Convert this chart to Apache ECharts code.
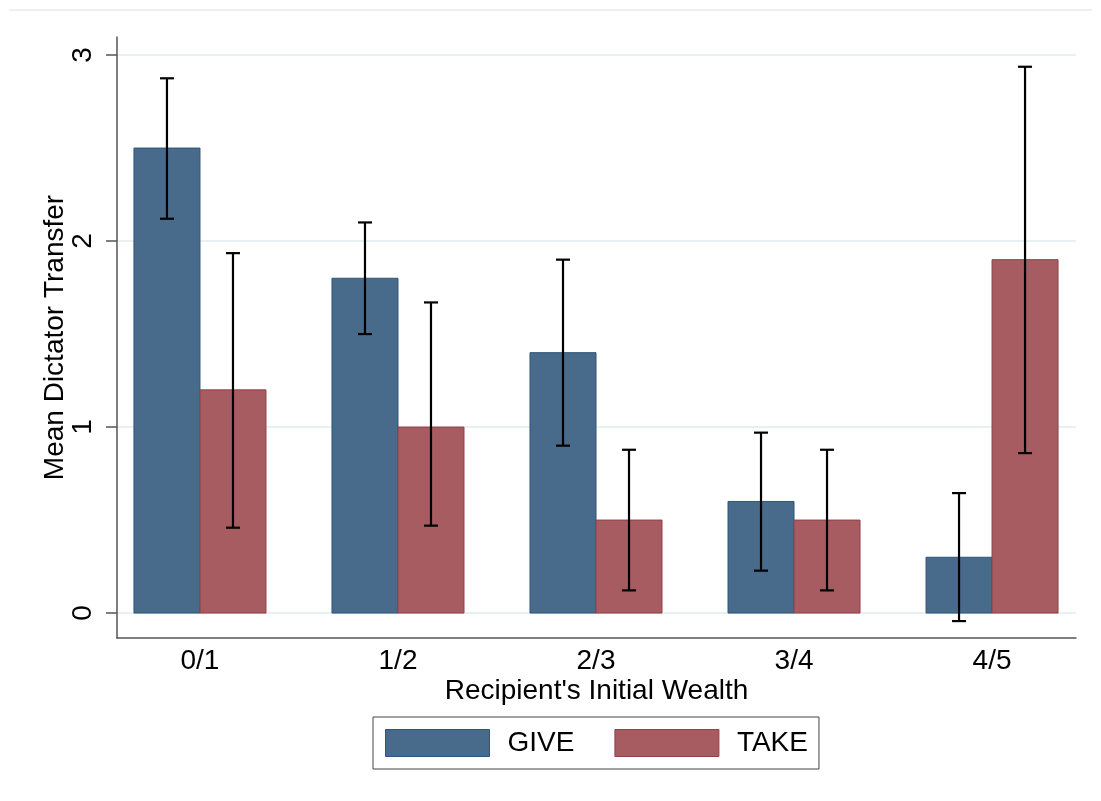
<!DOCTYPE html>
<html>
<head>
<meta charset="utf-8">
<script src="https://cdn.jsdelivr.net/npm/echarts@6/dist/echarts.min.js"></script>
<style>
  html, body { margin: 0; padding: 0; background: #ffffff; }
  #chart { width: 1101px; height: 801px; }
</style>
</head>
<body>
<div id="chart"></div>
<script>
// Recipient's initial wealth groups
const categories = ['0/1', '1/2', '2/3', '3/4', '4/5'];

// GIVE treatment: mean transfer with confidence interval
const giveMean = [2.5, 1.8, 1.4, 0.6, 0.3];
const giveLow  = [2.12, 1.50, 0.90, 0.228, -0.043];
const giveHigh = [2.875, 2.10, 1.90, 0.97, 0.645];

// TAKE treatment: mean transfer with confidence interval
const takeMean = [1.2, 1.0, 0.5, 0.5, 1.9];
const takeLow  = [0.459, 0.47, 0.122, 0.122, 0.86];
const takeHigh = [1.935, 1.67, 0.878, 0.878, 2.937];

const yTicks = [0, 1, 2, 3];
const xTicks = [1, 2, 3, 4, 5];

const FONT = '"Liberation Sans", Arial, sans-serif';
const BAR_W = 1 / 3;          // bar width in category units
const CAP = 7;                // half width of error-bar caps, px

const GIVE_FILL = '#486b8c', GIVE_EDGE = '#2e557a';
const TAKE_FILL = '#a65c61', TAKE_EDGE = '#93414a';

function rows(mean, low, high) {
  return mean.map((m, i) => [i + 1, m, low[i], high[i]]);
}

function barRenderer(offset, fill, edge) {
  return function (params, api) {
    const x = api.value(0) + offset;
    const base = api.coord([x, 0]);
    const top = api.coord([x + BAR_W, api.value(1)]);
    return {
      type: 'rect',
      shape: { x: base[0], y: top[1], width: top[0] - base[0], height: base[1] - top[1] },
      style: { fill: fill, stroke: edge, lineWidth: 1 }
    };
  };
}

function errRenderer(offset) {
  return function (params, api) {
    const x = api.value(0) + offset;
    const lo = api.coord([x, api.value(2)]);
    const hi = api.coord([x, api.value(3)]);
    const st = { stroke: '#000000', lineWidth: 2.2 };
    return {
      type: 'group',
      children: [
        { type: 'line', shape: { x1: lo[0], y1: lo[1], x2: hi[0], y2: hi[1] }, style: st },
        { type: 'line', shape: { x1: lo[0] - CAP, y1: lo[1], x2: lo[0] + CAP, y2: lo[1] }, style: st },
        { type: 'line', shape: { x1: hi[0] - CAP, y1: hi[1], x2: hi[0] + CAP, y2: hi[1] }, style: st }
      ]
    };
  };
}

const textBase = { fontFamily: FONT, fontSize: 28, color: '#000000' };

const chart = echarts.init(document.getElementById('chart'), null, { renderer: 'canvas' });

chart.setOption({
  animation: false,
  backgroundColor: '#ffffff',
  graphic: [{
    type: 'line',
    shape: { x1: 9, y1: 10, x2: 1092, y2: 10 },
    style: { stroke: '#e4ecee', lineWidth: 1.5 },
    silent: true
  }],
  grid: { left: 117, right: 25, top: 37, bottom: 163 },
  xAxis: {
    type: 'value',
    min: 0.581,
    max: 5.424,
    axisLine: { show: true, onZero: false, lineStyle: { color: '#555555', width: 1.5 } },
    axisTick: { show: false },
    splitLine: { show: false },
    axisLabel: {
      customValues: xTicks,
      formatter: v => categories[Math.round(v) - 1],
      margin: 9,
      ...textBase
    },
    name: "Recipient's Initial Wealth",
    nameLocation: 'middle',
    nameGap: 39,
    nameMoveOverlap: false,
    nameTextStyle: textBase
  },
  yAxis: {
    type: 'value',
    min: -0.134,
    max: 3.097,
    axisLine: { show: true, onZero: false, lineStyle: { color: '#555555', width: 1.5 } },
    axisTick: { show: true, length: 11, customValues: yTicks, lineStyle: { color: '#555555', width: 1.5 } },
    axisLabel: {
      customValues: yTicks,
      rotate: 90,
      margin: 20,
      ...textBase
    },
    splitLine: { show: true, lineStyle: { color: '#e8f0f2', width: 2 } },
    name: 'Mean Dictator Transfer',
    nameLocation: 'middle',
    nameGap: 48,
    nameMoveOverlap: false,
    nameRotate: 90,
    nameTextStyle: textBase
  },
  legend: {
    left: 373,
    top: 717,
    orient: 'horizontal',
    itemWidth: 104,
    itemHeight: 27,
    itemGap: 40,
    padding: [12, 11, 12, 12],
    borderColor: '#444444',
    borderWidth: 1,
    selectedMode: false,
    textStyle: { ...textBase, padding: [0, 0, 0, 13], lineHeight: 27 },
    data: [
      { name: 'GIVE', icon: 'rect', itemStyle: { color: GIVE_FILL, borderColor: GIVE_EDGE, borderWidth: 1 } },
      { name: 'TAKE', icon: 'rect', itemStyle: { color: TAKE_FILL, borderColor: TAKE_EDGE, borderWidth: 1 } }
    ]
  },
  series: [
    {
      name: 'GIVE', type: 'custom', data: rows(giveMean, giveLow, giveHigh),
      encode: { x: 0, y: [1, 2, 3] }, itemStyle: { color: GIVE_FILL },
      renderItem: barRenderer(-BAR_W, GIVE_FILL, GIVE_EDGE), z: 2
    },
    {
      name: 'TAKE', type: 'custom', data: rows(takeMean, takeLow, takeHigh),
      encode: { x: 0, y: [1, 2, 3] }, itemStyle: { color: TAKE_FILL },
      renderItem: barRenderer(0, TAKE_FILL, TAKE_EDGE), z: 2
    },
    {
      name: 'GIVE CI', type: 'custom', data: rows(giveMean, giveLow, giveHigh),
      encode: { x: 0, y: [1, 2, 3] },
      renderItem: errRenderer(-BAR_W / 2), z: 3
    },
    {
      name: 'TAKE CI', type: 'custom', data: rows(takeMean, takeLow, takeHigh),
      encode: { x: 0, y: [1, 2, 3] },
      renderItem: errRenderer(BAR_W / 2), z: 3
    }
  ]
});
</script>
</body>
</html>
